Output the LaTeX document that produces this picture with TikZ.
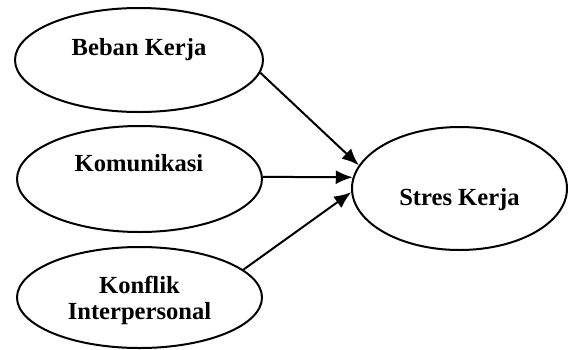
\documentclass[tikz,border=0pt]{standalone}
\usepackage{fontspec}
\setmainfont{Liberation Serif}
\usetikzlibrary{shapes.geometric,arrows.meta}

\tikzset{
    var/.style={draw, ellipse, line width=1pt, inner sep=0pt},
    txt/.style={font=\bfseries\fontsize{12.3}{13}\selectfont, align=center, inner sep=0pt},
    path/.style={-{Latex[length=8.5pt,width=7pt]}, line width=1pt}
}

\begin{document}
\begin{tikzpicture}[x=0.5pt, y=-0.5pt]

    \useasboundingbox (0,0) rectangle (568,349);

    % variables
    \node[var, minimum width=124pt, minimum height=52pt] (beban) at (139,60) {};
    \node[var, minimum width=122.5pt, minimum height=53pt] (komunikasi) at (139.5,179) {};
    \node[var, minimum width=122.5pt, minimum height=50.5pt] (konflik) at (139.5,297.5) {};
    \node[var, minimum width=107.5pt, minimum height=61.5pt] (stres) at (459.5,188.5) {};

    \node[txt] (bebanT) at (139,50) {Beban Kerja};
    \node[txt] (komunikasiT) at (139,163) {Komunikasi};
    \node[txt] (konflikT) at (139.5,300) {Konflik\\Interpersonal};
    \node[txt] (stresT) at (459.5,200) {Stres Kerja};

    % paths
    \draw[path] (beban.-6) -- (stres.167);
    \draw[path] (komunikasi.1) -- (stres.174);
    \draw[path] (konflik.15) -- (stres.182);

\end{tikzpicture}
\end{document}
